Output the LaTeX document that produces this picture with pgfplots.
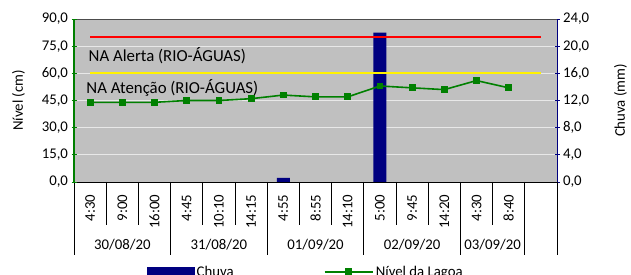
\documentclass[border=0pt]{standalone}
\usepackage{fontspec}
\setmainfont{Carlito}
\usepackage{pgfplots}
\pgfplotsset{compat=1.18}
\definecolor{navyc}{RGB}{0,0,128}
\definecolor{greenc}{RGB}{0,128,0}
\definecolor{bgc}{RGB}{192,192,192}
\definecolor{gridc}{RGB}{232,232,232}
\pgfplotsset{
  mylegline/.style={legend image code/.code={\draw[##1, line width=2.2pt, mark repeat=2, mark phase=2] plot coordinates {(0pt,0pt) (24pt,0pt) (48pt,0pt)};}},
  mylegbar/.style={legend image code/.code={\fill[navyc] (0pt,-4pt) rectangle (47pt,4pt);}},
}
\begin{document}
\begin{tikzpicture}[font=\fontsize{14.8}{17}\selectfont]
\path[use as bounding box] (0,0) rectangle (631pt,275pt);
\begin{axis}[
  at={(74pt,93pt)}, anchor=south west,
  scale only axis, width=483pt, height=163pt,
  xmin=-0.5, xmax=14.5, ymin=0, ymax=24,
  axis background/.style={fill=bgc},
  axis y line*=right, axis x line*=bottom,
  x axis line style={black, line width=0.9pt},
  y axis line style={navyc, line width=0.9pt},
  /pgf/number format/assume math mode=true,
  xtick={0,...,14},
  xticklabels={4:30,9:00,16:00,4:45,10:10,14:15,4:55,8:55,14:10,5:00,9:45,14:20,4:30,8:40,{}},
  x tick style={draw=none},
  xticklabel style={rotate=90, anchor=east, inner sep=0pt},
  xticklabel shift=10pt,
  ytick={0,4,...,24},
  y tick style={navyc, line width=0.9pt},
  tick align=center, major tick length=5pt,
  yticklabel style={/pgf/number format/.cd, fixed, fixed zerofill, precision=1, use comma},
  ylabel={Chuva (mm)},
  ylabel style={xshift=0pt, yshift=-18pt},
  ymajorgrids, grid style={gridc, line width=0.9pt},
  clip=false,
]
\addplot[ybar, bar width=13pt, fill=navyc, draw=none] coordinates {(6,0.6) (9,22.0)};
\draw[gray!60!black, line width=0.9pt] (rel axis cs:0,1) -- (rel axis cs:1,1);
\pgfplotsinvokeforeach{-0.5,2.5,5.5,8.5,11.5,13.5,14.5}{
  \draw[black, line width=0.8pt] (axis cs:#1,0) -- ++(0pt,-73pt);
}
\pgfplotsinvokeforeach{0.5,1.5,3.5,4.5,6.5,7.5,9.5,10.5,12.5}{
  \draw[black, line width=0.8pt] (axis cs:#1,0) -- ++(0pt,-43pt);
}
\node at ([yshift=-63pt]axis cs:1,0) {30/08/20};
\node at ([yshift=-63pt]axis cs:4,0) {31/08/20};
\node at ([yshift=-63pt]axis cs:7,0) {01/09/20};
\node at ([yshift=-63pt]axis cs:10,0) {02/09/20};
\node at ([yshift=-63pt]axis cs:12.5,0) {03/09/20};
\end{axis}
\begin{axis}[
  at={(74pt,93pt)}, anchor=south west,
  scale only axis, width=483pt, height=163pt,
  xmin=-0.5, xmax=14.5, ymin=0, ymax=90,
  axis x line=none, axis y line*=left,
  y axis line style={greenc, line width=1.2pt},
  /pgf/number format/assume math mode=true,
  ytick={0,15,...,90},
  y tick style={greenc, line width=0.9pt},
  tick align=center, major tick length=5pt,
  yticklabel style={/pgf/number format/.cd, fixed, fixed zerofill, precision=1, use comma},
  ylabel={Nível (cm)},
  ylabel style={yshift=10pt},
  clip=false,
  legend columns=2,
  legend style={at={(0.145,-0.55)}, anchor=west, draw=none, fill=none,
    /tikz/every even column/.append style={column sep=88pt}},
  legend cell align=left,
]
\addlegendimage{mylegbar}
\addlegendentry{Chuva}
\addplot[red, line width=2.2pt, forget plot] coordinates {(0,80) (1,80) (2,80) (3,80) (4,80) (5,80) (6,80) (7,80) (8,80) (9,80) (10,80) (11,80) (12,80) (13,80) (14,80)};
\addplot[yellow, line width=2.2pt, forget plot] coordinates {(0,60) (1,60) (2,60) (3,60) (4,60) (5,60) (6,60) (7,60) (8,60) (9,60) (10,60) (11,60) (12,60) (13,60) (14,60)};
\addplot[greenc, line width=1.6pt, mark=square*, mark size=2.6pt, mark options={solid, fill=greenc}, mylegline]
  coordinates {(0,44) (1,44) (2,44) (3,45) (4,45) (5,46) (6,48) (7,47) (8,47) (9,53) (10,52) (11,51) (12,56) (13,52)};
\addlegendentry{Nível da Lagoa}
\node[anchor=west, inner sep=0pt, font=\fontsize{16.8}{19}\selectfont] at (axis cs:-0.05,69.8) {NA Alerta (RIO-ÁGUAS)};
\node[anchor=west, inner sep=0pt, font=\fontsize{16.8}{19}\selectfont] at (axis cs:-0.12,51.9) {NA Atenção (RIO-ÁGUAS)};
\end{axis}
\end{tikzpicture}
\end{document}
